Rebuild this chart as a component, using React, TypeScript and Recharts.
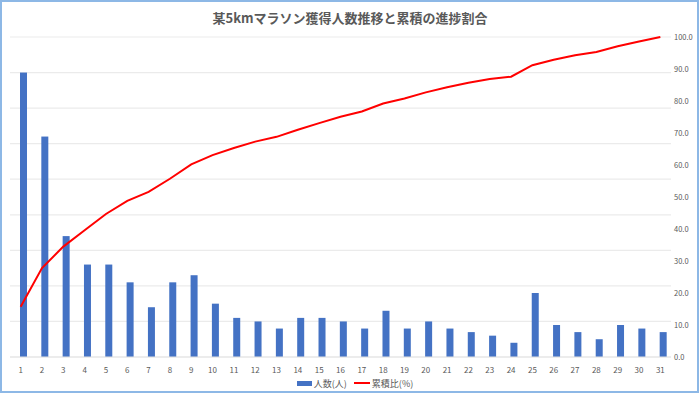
import { Bar, CartesianGrid, ComposedChart, Legend, Line, XAxis, YAxis } from "recharts";

const days = [
  "1", "2", "3", "4", "5", "6", "7", "8", "9", "10", "11", "12", "13", "14", "15", "16",
  "17", "18", "19", "20", "21", "22", "23", "24", "25", "26", "27", "28", "29", "30", "31",
];

// 人数(人)
const runners = [80, 62, 34, 26, 26, 21, 14, 21, 23, 15, 11, 10, 8, 11, 11, 10, 8, 13, 8, 10, 8, 7, 6, 4, 18, 9, 7, 5, 9, 8, 7];

// 累積比(%)
const cumulative = [
  15.7, 27.8, 34.5, 39.6, 44.7, 48.8, 51.6, 55.7, 60.2, 63.1, 65.3, 67.3, 68.8, 71.0, 73.1, 75.1,
  76.7, 79.2, 80.8, 82.7, 84.3, 85.7, 86.9, 87.6, 91.2, 92.9, 94.3, 95.3, 97.1, 98.6, 100.0,
];

const leftTicks = [0, 10, 20, 30, 40, 50, 60, 70, 80, 90];
const rightTicks = [0, 10, 20, 30, 40, 50, 60, 70, 80, 90, 100];

const data = days.map((day, i) => ({ day, runners: runners[i], cumulative: cumulative[i] }));

const FONT = '"Noto Sans CJK JP", "Noto Sans", sans-serif';
const TEXT = "#595959";

function ShiftedBar(props: any) {
  const { x, y, width, height, fill } = props;
  if (!height) return null;
  return <rect x={x + 3} y={y} width={width} height={height} fill={fill} />;
}

function ChartLegend() {
  return (
    <div
      style={{
        display: "flex",
        justifyContent: "center",
        alignItems: "center",
        height: 24,
        fontSize: 9,
        color: TEXT,
        fontFamily: FONT,
        gap: 7,
      }}
    >
      <span style={{ display: "flex", alignItems: "center" }}>
        <span style={{ width: 15, height: 5, background: "#4472c4", marginRight: 2 }} />
        人数(人)
      </span>
      <span style={{ display: "flex", alignItems: "center" }}>
        <span style={{ width: 16, height: 2, background: "#ff0000", marginRight: 2 }} />
        累積比(%)
      </span>
    </div>
  );
}

export default function App() {
  return (
    <div style={{ position: "absolute", left: 0, top: 0, width: 700, height: 395, background: "#fff" }}>
      <div
        style={{
          position: "absolute",
          left: 0,
          top: 8,
          width: 700,
          textAlign: "center",
          fontFamily: FONT,
          fontWeight: 700,
          fontSize: 13,
          color: TEXT,
        }}
      >
        某5kmマラソン獲得人数推移と累積の進捗割合
      </div>
      <ComposedChart
        width={700}
        height={395}
        data={data}
        margin={{ top: 37, right: 0, bottom: 0, left: 10 }}
        style={{ fontFamily: FONT }}
      >
        <CartesianGrid yAxisId="left" vertical={false} stroke="#ebebeb" strokeWidth={1.2} />
        <XAxis
          dataKey="day"
          height={14}
          tickLine={false}
          axisLine={{ stroke: "#e3e3e3" }}
          tickMargin={4}
          interval={0}
          tick={{ fontSize: 8, fill: TEXT }}
        />
        <YAxis yAxisId="left" hide domain={[0, 90]} ticks={leftTicks} />
        <YAxis
          yAxisId="right"
          orientation="right"
          width={29}
          domain={[0, 100]}
          ticks={rightTicks}
          tickLine={false}
          axisLine={false}
          tickSize={0}
          tickMargin={3}
          tick={{ fontSize: 7.5, fill: TEXT }}
          tickFormatter={(v: number) => v.toFixed(1)}
        />
        <Bar
          yAxisId="left"
          dataKey="runners"
          name="人数(人)"
          fill="#4472c4"
          barSize={7}
          shape={ShiftedBar}
          isAnimationActive={false}
        />
        <Line
          yAxisId="right"
          type="linear"
          dataKey="cumulative"
          name="累積比(%)"
          stroke="#ff0000"
          strokeWidth={2}
          dot={false}
          isAnimationActive={false}
        />
        <Legend verticalAlign="bottom" content={<ChartLegend />} />
      </ComposedChart>
      <div
        style={{
          position: "absolute",
          left: 0,
          top: 0,
          width: 699,
          height: 393,
          boxSizing: "border-box",
          border: "2px solid #8db8e6",
          pointerEvents: "none",
        }}
      />
    </div>
  );
}
